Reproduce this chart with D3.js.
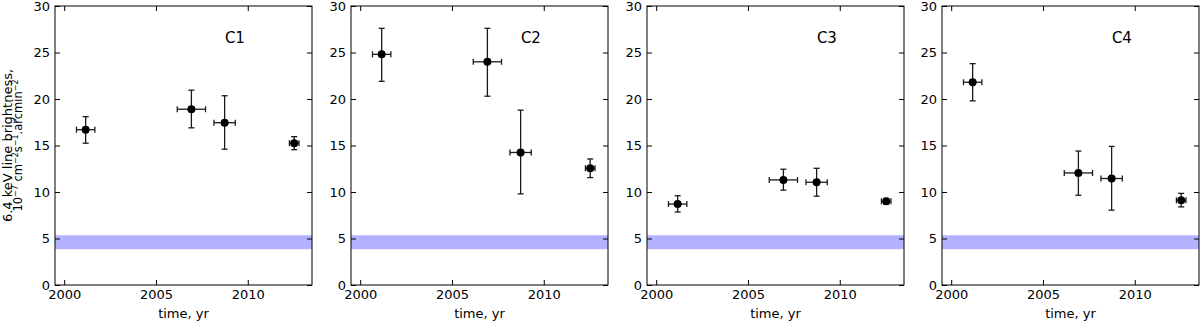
<!DOCTYPE html>
<html>
<head>
<meta charset="utf-8">
<script src="https://cdn.jsdelivr.net/npm/d3@7"></script>
<style>
  body { margin: 0; background: #fff; }
  svg { display: block; }
  text { font-family: "DejaVu Sans", sans-serif; }
</style>
</head>
<body>
<svg id="chart" width="1200" height="321"></svg>
<script>
// observation epochs (yr) and their half-widths
const years    = [2001.17, 2006.93, 2008.74, 2012.53]
const yearErr  = [0.5, 0.77, 0.58, 0.26]

// 6.4 keV brightness per region: value, lower and upper error ends
const regions = ["C1", "C2", "C3", "C4"]
const c1Vals = [16.7, 18.9, 17.45, 15.25]
const c1Lo   = [15.25, 16.9, 14.6, 14.55]
const c1Hi   = [18.1, 20.95, 20.35, 15.95]
const c2Vals = [24.8, 24.0, 14.25, 12.55]
const c2Lo   = [21.9, 20.3, 9.8, 11.55]
const c2Hi   = [27.6, 27.6, 18.8, 13.55]
const c3Vals = [8.7, 11.3, 11.05, 9.0]
const c3Lo   = [7.85, 10.2, 9.55, 8.7]
const c3Hi   = [9.6, 12.45, 12.55, 9.3]
const c4Vals = [21.8, 12.05, 11.45, 9.1]
const c4Lo   = [19.8, 9.65, 8.05, 8.4]
const c4Hi   = [23.8, 14.4, 14.9, 9.85]

// background band
const bandLo = 3.85, bandHi = 5.35

const xTicks = [2000, 2005, 2010]
const yTicks = [0, 5, 10, 15, 20, 25, 30]

const panelData = [
  [c1Vals, c1Lo, c1Hi],
  [c2Vals, c2Lo, c2Hi],
  [c3Vals, c3Lo, c3Hi],
  [c4Vals, c4Lo, c4Hi]
]

const lefts = [55, 351, 647, 942]
const padTop = 6, w = 257, h = 279

const svg = d3.select("#chart")

const x = d3.scaleLinear().domain([1999.5, 2013.5]).range([0, w])
const y = d3.scaleLinear().domain([0, 30]).range([h, 0])

panelData.forEach((pd, pi) => {
  const g = svg.append("g").attr("transform", `translate(${lefts[pi]},${padTop})`)
  const pts = years.map((yr, i) => ({ yr, xe: yearErr[i], v: pd[0][i], lo: pd[1][i], hi: pd[2][i] }))

  g.append("rect")
    .attr("x", 0).attr("width", w)
    .attr("y", y(bandHi)).attr("height", y(bandLo) - y(bandHi))
    .attr("fill", "#b2b2ff")

  // axes, ticks pointing inward on all four sides
  const styleAxis = sel => {
    sel.select(".domain").remove()
    sel.selectAll(".tick line").attr("stroke", "#000")
    sel.selectAll(".tick text").attr("font-size", 13).attr("fill", "#000")
      .style("font-family", '"DejaVu Sans", sans-serif')
  }
  g.append("g").attr("transform", `translate(0,${h})`)
    .call(d3.axisBottom(x).tickValues(xTicks).tickFormat(d3.format("d")).tickSize(-5).tickPadding(5))
    .call(styleAxis)
  g.append("g")
    .call(d3.axisTop(x).tickValues(xTicks).tickFormat("").tickSize(-5))
    .call(styleAxis)
  g.append("g")
    .call(d3.axisLeft(y).tickValues(yTicks).tickSize(-5).tickPadding(5))
    .call(styleAxis)
  g.append("g").attr("transform", `translate(${w},0)`)
    .call(d3.axisRight(y).tickValues(yTicks).tickFormat("").tickSize(-5))
    .call(styleAxis)

  // error bars
  const eb = g.append("g").attr("stroke", "#1a1a1a").attr("stroke-width", 1.3)
  eb.selectAll("line.v").data(pts).enter().append("line")
    .attr("x1", d => x(d.yr)).attr("x2", d => x(d.yr))
    .attr("y1", d => y(d.lo)).attr("y2", d => y(d.hi))
  eb.selectAll("line.h").data(pts).enter().append("line")
    .attr("x1", d => x(d.yr - d.xe)).attr("x2", d => x(d.yr + d.xe))
    .attr("y1", d => y(d.v)).attr("y2", d => y(d.v))
  // caps
  const capsV = pts.flatMap(d => [{ cx: x(d.yr), cy: y(d.lo) }, { cx: x(d.yr), cy: y(d.hi) }])
  const capsH = pts.flatMap(d => [{ cx: x(d.yr - d.xe), cy: y(d.v) }, { cx: x(d.yr + d.xe), cy: y(d.v) }])
  eb.selectAll("line.cv").data(capsV).enter().append("line")
    .attr("x1", d => d.cx - 3).attr("x2", d => d.cx + 3)
    .attr("y1", d => d.cy).attr("y2", d => d.cy)
  eb.selectAll("line.ch").data(capsH).enter().append("line")
    .attr("x1", d => d.cx).attr("x2", d => d.cx)
    .attr("y1", d => d.cy - 3).attr("y2", d => d.cy + 3)

  g.selectAll("circle").data(pts).enter().append("circle")
    .attr("cx", d => x(d.yr)).attr("cy", d => y(d.v))
    .attr("r", 4).attr("fill", "#000")

  g.append("text")
    .attr("x", x(2009.3)).attr("y", y(26.6) + 5.5)
    .attr("text-anchor", "middle").attr("font-size", 15)
    .text(regions[pi])

  g.append("text")
    .attr("x", w / 2).attr("y", h + 33)
    .attr("text-anchor", "middle").attr("font-size", 13)
    .text("time, yr")

  g.append("rect")
    .attr("width", w).attr("height", h)
    .attr("fill", "none").attr("stroke", "#000").attr("stroke-width", 1)
})

// y label, two lines
const cy = padTop + h / 2
svg.append("text")
  .attr("transform", `translate(11.5,${cy}) rotate(-90)`)
  .attr("text-anchor", "middle").attr("font-size", 13)
  .text("6.4 keV line brightness,")

const unit = svg.append("text")
  .attr("transform", `translate(22,${cy}) rotate(-90)`)
  .attr("text-anchor", "middle").attr("font-size", 11.5)
const parts = [["10", false], ["\u22127", true], [" cm", false], ["\u22122", true],
               ["s", false], ["\u22121", true], [".arcmin", false], ["\u22122", true]]
let shifted = false
parts.forEach(([t, sup]) => {
  const ts = unit.append("tspan").text(t)
  if (sup && !shifted) { ts.attr("dy", -4.5).attr("font-size", 8); shifted = true }
  else if (sup) ts.attr("font-size", 8)
  else if (shifted) { ts.attr("dy", 4.5); shifted = false }
})
</script>
</body>
</html>
